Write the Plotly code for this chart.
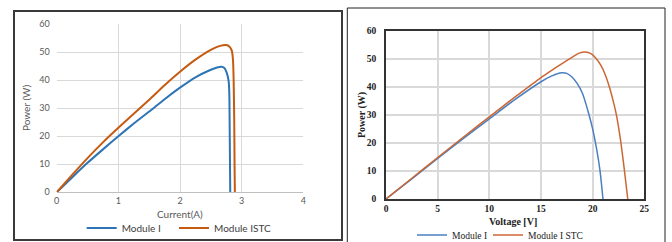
import plotly.graph_objects as go

W, H = 672, 242

# ---- Left panel: Power vs Current ----
current_mod1 = [0, 0.25, 0.5, 0.75, 1.0, 1.25, 1.5, 1.75, 2.0, 2.25, 2.5, 2.6, 2.67, 2.72, 2.76, 2.79, 2.80, 2.805, 2.81, 2.815]
power_mod1_i = [0, 5.3, 10.5, 15.3, 20.0, 24.5, 28.8, 33.2, 37.3, 41.0, 43.7, 44.5, 44.8, 44.3, 42.5, 39.5, 35, 25, 12, 0]

current_stc = [0, 0.25, 0.5, 0.75, 1.0, 1.25, 1.5, 1.75, 2.0, 2.25, 2.5, 2.65, 2.75, 2.8, 2.84, 2.86, 2.87, 2.88, 2.885, 2.89]
power_stc_i = [0, 6.2, 12.2, 17.8, 23.0, 28.0, 33.0, 38.2, 43.0, 47.3, 50.8, 52.2, 52.5, 52.0, 50.5, 47, 40, 25, 10, 0]

# ---- Right panel: Power vs Voltage ----
voltage_mod1 = [0, 2.5, 5, 7.5, 10, 12.5, 15, 16, 17, 17.5, 18, 18.5, 19, 19.5, 20, 20.4, 20.7, 21]
power_mod1_v = [0, 7.2, 14.5, 21.6, 28.6, 35.5, 41.8, 43.8, 45.0, 44.8, 43.5, 41.2, 37.8, 32, 25, 17.5, 10.5, 0]

voltage_stc = [0, 2.5, 5, 7.5, 10, 12.5, 15, 16, 17, 18, 18.7, 19.3, 19.8, 20.3, 20.8, 21.2, 21.6, 22.0, 22.3, 22.7, 23.05, 23.4]
power_stc_v = [0, 7.4, 14.8, 22.1, 29.3, 36.4, 43.3, 45.8, 48.2, 50.5, 52.0, 52.4, 51.9, 50.3, 47.6, 44.5, 40.2, 34.8, 30.0, 21.0, 11.0, 0]

left_xticks = [0, 1, 2, 3, 4]
right_xticks = [0, 5, 10, 15, 20, 25]
yticks = [0, 10, 20, 30, 40, 50, 60]

def px(x):
    return x / W

def py(y):
    return 1 - y / H

SANS = "Lato, 'Open Sans', sans-serif"
SERIF = "'Liberation Serif', 'Times New Roman', serif"

fig = go.Figure()

fig.add_trace(go.Scatter(x=current_mod1, y=power_mod1_i, mode="lines", name="Module I",
                         line=dict(color="#2e75b6", width=2, shape="spline", smoothing=0.6),
                         xaxis="x", yaxis="y", legend="legend", showlegend=True))
fig.add_trace(go.Scatter(x=current_stc, y=power_stc_i, mode="lines", name="Module ISTC",
                         line=dict(color="#c55a11", width=2, shape="spline", smoothing=0.6),
                         xaxis="x", yaxis="y", legend="legend2", showlegend=True))
fig.add_trace(go.Scatter(x=voltage_mod1, y=power_mod1_v, mode="lines", name="Module I",
                         line=dict(color="#4a7fc1", width=1.5, shape="spline", smoothing=0.8),
                         xaxis="x2", yaxis="y2", legend="legend3", showlegend=True))
fig.add_trace(go.Scatter(x=voltage_stc, y=power_stc_v, mode="lines", name="Module I STC",
                         line=dict(color="#cc6633", width=1.5, shape="spline", smoothing=0.8),
                         xaxis="x2", yaxis="y2", legend="legend4", showlegend=True))

grid = "#d9d9d9"
lx = [px(56.7), px(303.3)]
ly = [py(192.3), py(24)]
rx = [px(386), px(644.3)]
ry = [py(199), py(30.7)]

def legend_at(textx, ycenter, font):
    return dict(x=px(textx - 40), y=py(ycenter), xanchor="left", yanchor="middle",
                orientation="h", bgcolor="rgba(0,0,0,0)", borderwidth=0,
                font=font, itemwidth=30)

left_legend_font = dict(family=SANS, size=10, color="#404040")
right_legend_font = dict(family=SERIF, size=9.5, color="#222222")

fig.update_layout(
    width=W, height=H,
    showlegend=True,
    margin=dict(l=0, r=0, t=0, b=0, autoexpand=False),
    paper_bgcolor="white", plot_bgcolor="white",
    xaxis=dict(domain=lx, range=[0, 4], tickvals=left_xticks, showgrid=True, gridcolor=grid, gridwidth=1,
               zeroline=False, showline=True, linecolor="#bfbfbf", linewidth=1, ticks="",
               tickfont=dict(family=SANS, size=9, color="#595959"), anchor="y", fixedrange=True),
    yaxis=dict(domain=ly, range=[0, 60], tickvals=yticks, showgrid=True, gridcolor=grid, gridwidth=1,
               zeroline=False, showline=False, ticks="", ticklabelstandoff=6,
               tickfont=dict(family=SANS, size=9, color="#595959"), anchor="x", fixedrange=True),
    xaxis2=dict(domain=rx, range=[0, 25], tickvals=right_xticks, showgrid=True, gridcolor=grid, gridwidth=1.5,
                zeroline=False, showline=True, mirror=True, linecolor="#333333", linewidth=1.5, ticks="",
                tickfont=dict(family=SERIF, size=9.5, color="#222222", weight="bold"), anchor="y2", fixedrange=True),
    yaxis2=dict(domain=ry, range=[0, 60], tickvals=yticks, showgrid=True, gridcolor=grid, gridwidth=1.5,
                zeroline=False, showline=True, mirror=True, linecolor="#333333", linewidth=1.5, ticks="",
                ticklabelstandoff=6,
                tickfont=dict(family=SERIF, size=9.5, color="#222222", weight="bold"), anchor="x2", fixedrange=True),
    legend=legend_at(121.7, 228, left_legend_font),
    legend2=legend_at(214, 228, left_legend_font),
    legend3=legend_at(452, 235, right_legend_font),
    legend4=legend_at(528, 235, right_legend_font),
    shapes=[
        dict(type="rect", xref="paper", yref="paper", x0=px(14), x1=px(342), y0=py(240), y1=py(11),
             line=dict(color="#3a3a3a", width=2), fillcolor="rgba(0,0,0,0)"),
        dict(type="rect", xref="paper", yref="paper", x0=px(347.3), x1=px(665), y0=py(250), y1=py(8),
             line=dict(color="#222222", width=1), fillcolor="rgba(0,0,0,0)"),
    ],
    annotations=[
        dict(text="Current(A)", x=px(180), y=py(214), xref="paper", yref="paper", showarrow=False,
             xanchor="center", yanchor="middle", font=dict(family=SANS, size=10, color="#595959")),
        dict(text="Power (W)", x=px(26), y=py(108), xref="paper", yref="paper", showarrow=False,
             textangle=-90, xanchor="center", yanchor="middle",
             font=dict(family=SANS, size=10, color="#595959")),
        dict(text="<b>Voltage [V]</b>", x=px(513), y=py(221), xref="paper", yref="paper", showarrow=False,
             xanchor="center", yanchor="middle", font=dict(family=SERIF, size=10, color="#222222")),
        dict(text="<b>Power (W)</b>", x=px(362), y=py(115), xref="paper", yref="paper", showarrow=False,
             textangle=-90, xanchor="center", yanchor="middle",
             font=dict(family=SERIF, size=10, color="#222222")),
    ],
)

fig.write_html("out.html", config={"displayModeBar": False},
               post_script="document.body.style.margin='0';document.body.style.overflow='hidden';")
